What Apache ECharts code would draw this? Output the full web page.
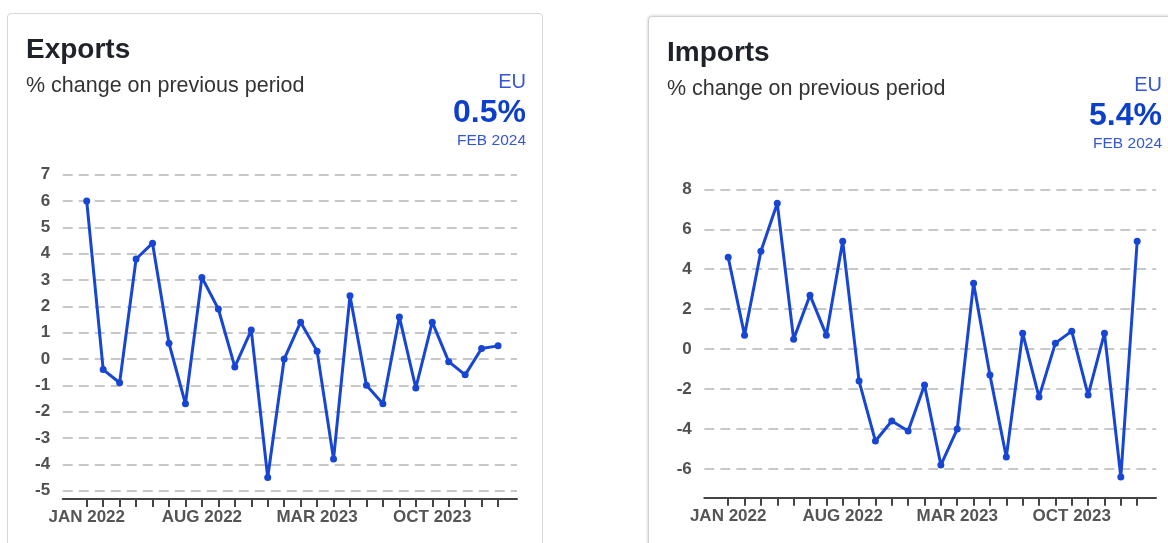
<!DOCTYPE html>
<html>
<head>
<meta charset="utf-8">
<script src="https://cdn.jsdelivr.net/npm/echarts@6/dist/echarts.min.js"></script>
<style>
  html, body { margin: 0; padding: 0; background: #fff; }
  body { width: 1168px; height: 543px; position: relative; overflow: hidden; font-family: "Liberation Sans", Arial, sans-serif; }
  .card { position: absolute; background: #fff; border-radius: 4px; }
  #cardExp { left: 7px; top: 13px; width: 534px; height: 600px; border: 1px solid #d6d6d6; }
  #cardImp { left: 648px; top: 16px; width: 600px; height: 600px; border: 1px solid #d0d0d0; box-shadow: 0 0 3px rgba(0,0,0,0.25); }
  #chart { position: absolute; left: 0; top: 0; width: 1168px; height: 543px; }
</style>
</head>
<body>
<div class="card" id="cardExp"></div>
<div class="card" id="cardImp"></div>
<div id="chart"></div>
<script>
// ---- data ----
const months = ['JAN 2022','FEB 2022','MAR 2022','APR 2022','MAY 2022','JUN 2022','JUL 2022','AUG 2022','SEP 2022','OCT 2022','NOV 2022','DEC 2022',
                'JAN 2023','FEB 2023','MAR 2023','APR 2023','MAY 2023','JUN 2023','JUL 2023','AUG 2023','SEP 2023','OCT 2023','NOV 2023','DEC 2023',
                'JAN 2024','FEB 2024'];
const tickLabels = ['JAN 2022','AUG 2022','MAR 2023','OCT 2023'];
const exportsValues = [6.0,-0.4,-0.9,3.8,4.4,0.6,-1.7,3.1,1.9,-0.3,1.1,-4.5,0.0,1.4,0.3,-3.8,2.4,-1.0,-1.7,1.6,-1.1,1.4,-0.1,-0.6,0.4,0.5];
const importsValues = [4.6,0.7,4.9,7.3,0.5,2.7,0.7,5.4,-1.6,-4.6,-3.6,-4.1,-1.8,-5.8,-4.0,3.3,-1.3,-5.4,0.8,-2.4,0.3,0.9,-2.3,0.8,-6.4,5.4];
const exportsTicks = [-5,-4,-3,-2,-1,0,1,2,3,4,5,6,7];
const importsTicks = [-6,-4,-2,0,2,4,6,8];
const titles = ['Exports','Imports'];
const subtitle = '% change on previous period';
const region = 'EU';

// ---- chart ----
const FONT = '"Liberation Sans", Arial, sans-serif';
const LINE = '#1746d4';
const chart = echarts.init(document.getElementById('chart'), null, {renderer: 'canvas'});
const tickIdx = months.map((m, i) => i);
const labelIdx = tickLabels.map(m => months.indexOf(m));
const lastIdx = months.length - 1;

function xAxisDef(gridIndex, offset) {
  return {
    type: 'value', gridIndex, min: -1.46, max: 26.15, offset,
    axisLine: {show: true, onZero: false, lineStyle: {color: '#444', width: 2}},
    axisTick: {show: true, customValues: tickIdx, length: 8, lineStyle: {color: '#444', width: 2}},
    axisLabel: {customValues: labelIdx, formatter: v => months[Math.round(v)], margin: 10,
      fontFamily: FONT, fontSize: 17, fontWeight: 'bold', color: '#555'},
    splitLine: {show: false}
  };
}
function yAxisDef(gridIndex, ticks) {
  return {
    type: 'value', gridIndex, min: ticks[0], max: ticks[ticks.length - 1], interval: ticks[1] - ticks[0],
    axisLine: {show: false}, axisTick: {show: false},
    axisLabel: {margin: 12.5, fontFamily: FONT, fontSize: 17, fontWeight: 'bold', color: '#505050'},
    splitLine: {show: true, lineStyle: {color: '#c8c8c8', width: 2, type: [10, 6]}}
  };
}
function seriesDef(idx, values) {
  return {
    type: 'line', xAxisIndex: idx, yAxisIndex: idx,
    data: values.map((v, i) => [i, v]),
    symbol: 'circle', symbolSize: 7, showSymbol: true, clip: false,
    lineStyle: {color: LINE, width: 3}, itemStyle: {color: LINE},
    animation: false
  };
}
function headerTexts(left, right, dy, title, lastValue) {
  return [
    {type: 'text', style: {x: left, y: 50.5 + dy, text: title, font: 'bold 28px ' + FONT, fill: '#1f2329', textVerticalAlign: 'middle'}},
    {type: 'text', style: {x: left, y: 86 + dy, text: subtitle, font: '21.5px ' + FONT, fill: '#333', textVerticalAlign: 'middle'}},
    {type: 'text', style: {x: right, y: 82 + dy, text: region, font: '20px ' + FONT, fill: '#3557d6', textAlign: 'right', textVerticalAlign: 'middle'}},
    {type: 'text', style: {x: right, y: 113.5 + dy, text: lastValue.toFixed(1) + '%', font: 'bold 32px ' + FONT, fill: '#0c3fcc', textAlign: 'right', textVerticalAlign: 'middle'}},
    {type: 'text', style: {x: right, y: 140.5 + dy, text: months[lastIdx], font: '15.5px ' + FONT, fill: '#3557d6', textAlign: 'right', textVerticalAlign: 'middle'}}
  ];
}

chart.setOption({
  animation: false,
  grid: [
    {left: 62.7, right: 1168 - 517, top: 174.7, bottom: 543 - 490.7},
    {left: 704.3, right: 1168 - 1156, top: 189.3, bottom: 543 - 469}
  ],
  xAxis: [xAxisDef(0, 8.3), xAxisDef(1, 28.7)],
  yAxis: [yAxisDef(0, exportsTicks), yAxisDef(1, importsTicks)],
  series: [seriesDef(0, exportsValues), seriesDef(1, importsValues)],
  graphic: [].concat(
    headerTexts(26, 526, 0, titles[0], exportsValues[lastIdx]),
    headerTexts(667, 1162, 3, titles[1], importsValues[lastIdx])
  )
});
</script>
</body>
</html>
